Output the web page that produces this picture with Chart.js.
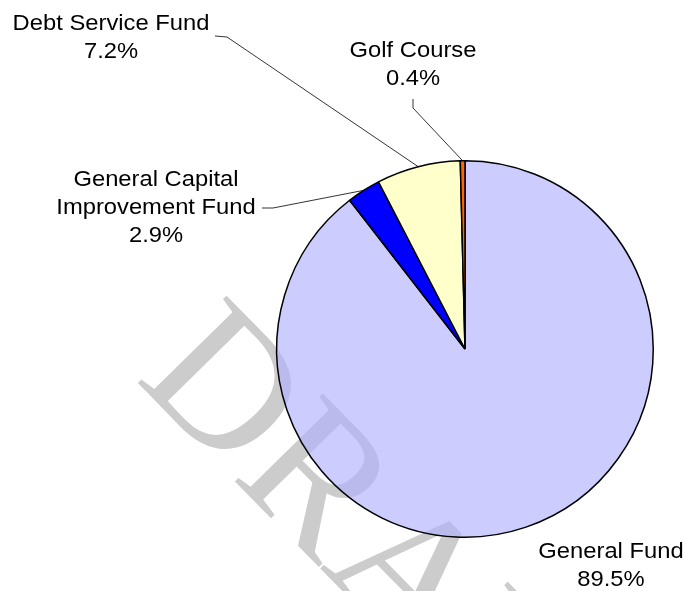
<!DOCTYPE html>
<html>
<head>
<meta charset="utf-8">
<script src="https://cdn.jsdelivr.net/npm/chart.js@4/dist/chart.umd.min.js"></script>
<style>
  html, body { margin: 0; padding: 0; background: #fff; }
  #wrap { width: 683px; height: 591px; }
</style>
</head>
<body>
<div id="wrap"><canvas id="fundChart" width="683" height="591"></canvas></div>
<script>
// --- Chart data ---
const fundNames = ['General Fund', 'General Capital Improvement Fund', 'Debt Service Fund', 'Golf Course'];
const fundShares = [89.5, 2.9, 7.2, 0.4];
// lavender is slightly see-through so the watermark shows under it (same look as #CCCCFF on white)
const sliceColors = ['rgba(176, 176, 255, 0.65)', '#0000FF', '#FFFFCC', '#FF6600'];
const labelLines = [['General Fund'], ['General Capital', 'Improvement Fund'], ['Debt Service Fund'], ['Golf Course']];

// --- Label placement (text centre x, first baseline y, leader elbow points) ---
const labelSpots = [
    { x: 611, y: 558, leader: null },
    { x: 156, y: 186, leader: [[262, 208], [273, 208]] },
    { x: 111, y: 30, leader: [[215, 36], [227, 37]] },
    { x: 413, y: 57, leader: [[413, 99], [413, 108]] }
];
const LABEL_FONT = '22px "Liberation Sans", Arial, sans-serif';
const LABEL_STRETCH = 1.08; // reference text is a little wider than normal
const LINE_GAP = 28;

// Draws the category/percent labels plus thin leader lines to each slice
const sliceLabels = {
    id: 'sliceLabels',
    afterDatasetsDraw(chart) {
        const ctx = chart.ctx;
        const arcs = chart.getDatasetMeta(0).data;
        ctx.save();
        ctx.font = LABEL_FONT;
        ctx.fillStyle = '#000';
        ctx.textAlign = 'center';
        ctx.textBaseline = 'alphabetic';
        arcs.forEach((arc, i) => {
            const spot = labelSpots[i];
            const lines = labelLines[i].concat([fundShares[i].toFixed(1) + '%']);
            lines.forEach((txt, k) => {
                ctx.save();
                ctx.translate(spot.x, spot.y + k * LINE_GAP);
                ctx.scale(LABEL_STRETCH, 1);
                ctx.fillText(txt, 0, 0);
                ctx.restore();
            });

            if (spot.leader) {
                const p = arc.getProps(['x', 'y', 'startAngle', 'endAngle', 'outerRadius'], true);
                const mid = (p.startAngle + p.endAngle) / 2;
                const ex = p.x + Math.cos(mid) * p.outerRadius;
                const ey = p.y + Math.sin(mid) * p.outerRadius;
                ctx.beginPath();
                ctx.strokeStyle = '#000';
                ctx.lineWidth = 0.8;
                ctx.moveTo(spot.leader[0][0], spot.leader[0][1]);
                ctx.lineTo(spot.leader[1][0], spot.leader[1][1]);
                ctx.lineTo(ex, ey);
                ctx.stroke();
            }
        });
        ctx.restore();
    }
};

// Light gray "DRAFT" watermark, drawn under the pie
const draftMark = {
    id: 'draftMark',
    beforeDatasetsDraw(chart) {
        const ctx = chart.ctx;
        ctx.save();
        ctx.translate(134, 379);
        ctx.rotate(45.5 * Math.PI / 180);
        ctx.font = '190px "Liberation Serif", "Times New Roman", serif';
        ctx.fillStyle = '#cccccc';
        ctx.textBaseline = 'alphabetic';
        ctx.fillText('DRAFT', 0, 0);
        ctx.restore();
    }
};

const fundChart = new Chart(document.getElementById('fundChart').getContext('2d'), {
    type: 'pie',
    data: {
        labels: fundNames,
        datasets: [{
            data: fundShares,
            backgroundColor: sliceColors,
            borderColor: '#000',
            borderWidth: 1.5
        }]
    },
    options: {
        responsive: false,
        animation: false,
        layout: { padding: { left: 276, right: 29, top: 160, bottom: 53 } },
        plugins: {
            legend: { display: false },
            tooltip: { enabled: false }
        }
    },
    plugins: [draftMark, sliceLabels]
});
</script>
</body>
</html>
